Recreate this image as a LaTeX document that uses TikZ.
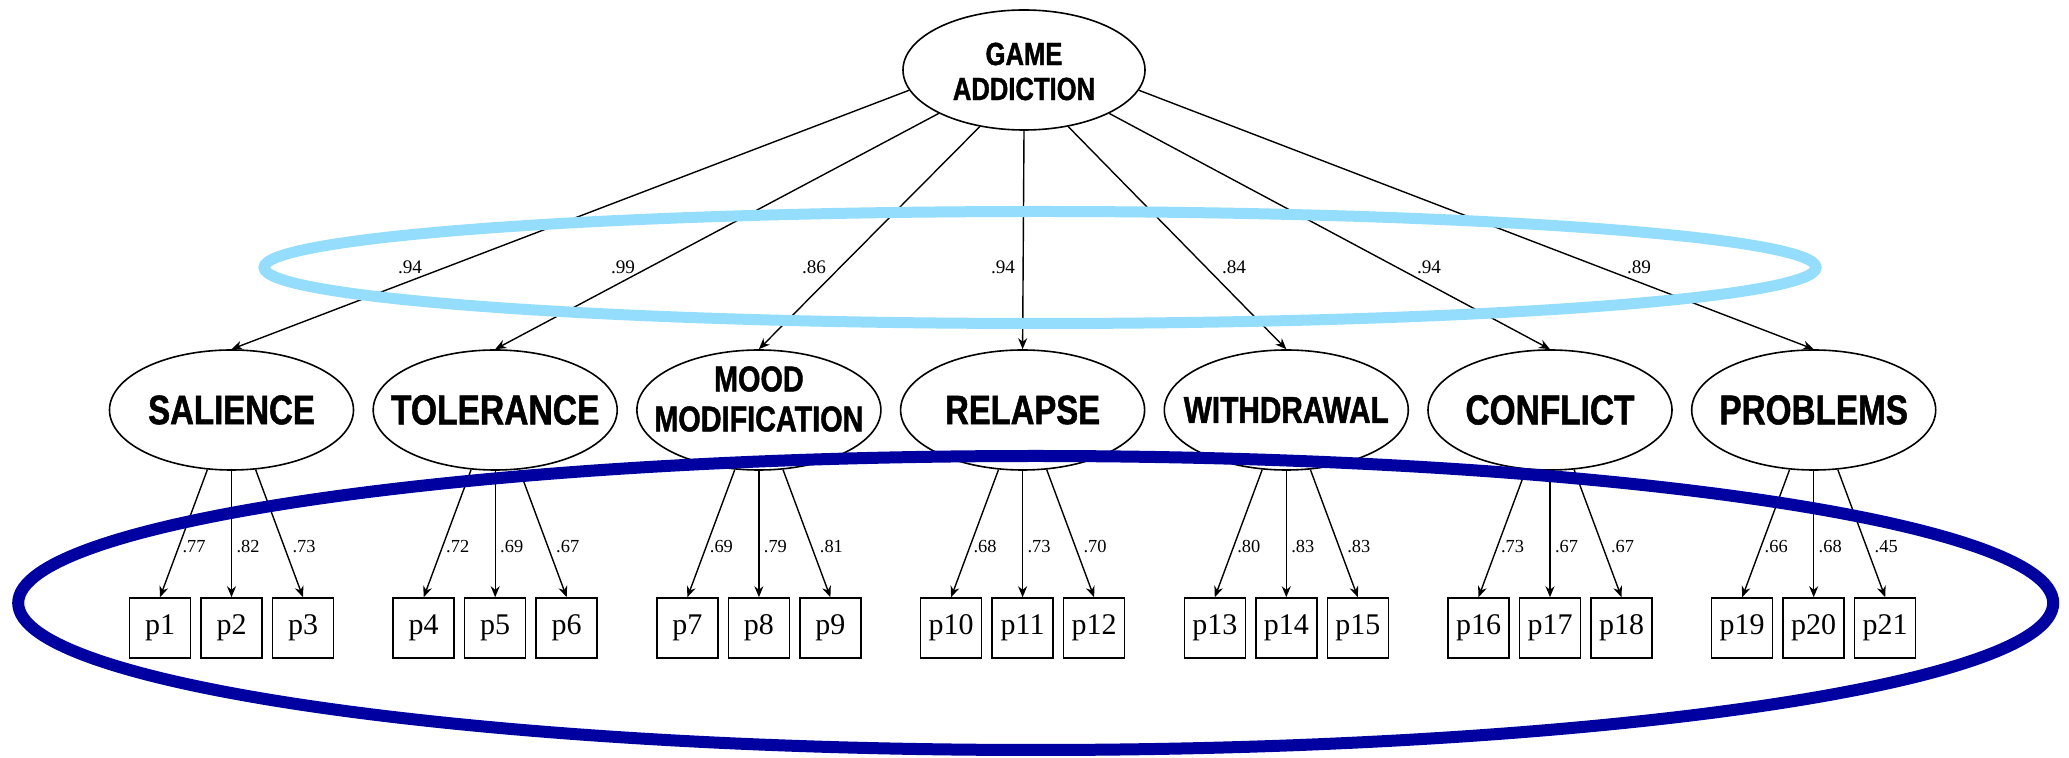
\documentclass[tikz,border=0pt]{standalone}
\usepackage{fontspec}
\setmainfont{Liberation Serif}
\newfontfamily\capsfont{Liberation Sans}[FakeStretch=0.8, BoldFeatures={FakeBold=1.2}]
\usetikzlibrary{shapes.geometric,arrows.meta}

\definecolor{ringlight}{RGB}{148,221,252}
\definecolor{ringdark}{RGB}{0,0,160}

\tikzset{
  latent/.style={ellipse, draw, line width=0.8pt, minimum width=122pt,
    minimum height=60pt, inner sep=0pt},
  lv/.style={font=\capsfont\bfseries\fontsize{#1}{#1}\selectfont},
  obs/.style={rectangle, draw, line width=0.75pt, minimum width=30.5pt,
    minimum height=30pt, inner sep=0pt, font=\fontsize{15}{18}\selectfont},
  load/.style={line width=0.7pt, -{Stealth[length=5.5pt,width=4.5pt]}},
  coeftop/.style={font=\fontsize{9.6}{11}\selectfont, inner sep=0pt},
  coefitem/.style={font=\fontsize{9.2}{11}\selectfont, inner sep=0pt},
}

\begin{document}
\begin{tikzpicture}[x=0.5pt,y=-0.5pt]
\useasboundingbox (0,0) rectangle (2069,758);

% second-order factor
\node[latent, minimum width=121pt] (top) at (1024,70) {};
\node[font=\capsfont\bfseries\fontsize{16}{17.5}\selectfont, align=center]
  (toptxt) at (1024,71.5) {GAME\\ADDICTION};

% first-order factors
\node[latent, label={[lv=20.6]center:SALIENCE}]   (f1) at (231.5,410) {};
\node[latent, label={[lv=21]center:TOLERANCE}]    (f2) at (495.2,410) {};
\node[latent, label={[font=\capsfont\bfseries\fontsize{18}{20}\selectfont,
  align=center, yshift=5.5pt]center:MOOD\\MODIFICATION}] (f3) at (758.9,410) {};
\node[latent, label={[lv=20.5]center:RELAPSE}]    (f4) at (1022.6,410) {};
\node[latent, label={[lv=18.6]center:WITHDRAWAL}] (f5) at (1286.3,410) {};
\node[latent, label={[lv=20.9]center:CONFLICT}]   (f6) at (1550.0,410) {};
\node[latent, label={[lv=20.8]center:PROBLEMS}]   (f7) at (1813.7,410) {};

% paths from the second-order factor
\foreach \k/\ang in {1/190,2/207,3/232,4/270,5/308,6/333,7/350}
  \draw[load] (top.\ang) -- (f\k.north);

\node[coeftop] (g1) at (410,267)  {.94};
\node[coeftop] (g2) at (623,267)  {.99};
\node[coeftop] (g3) at (814,267)  {.86};
\node[coeftop] (g4) at (1003,267) {.94};
\node[coeftop] (g5) at (1234,267) {.84};
\node[coeftop] (g6) at (1429,267) {.94};
\node[coeftop] (g7) at (1639,267) {.89};

% indicators, loadings and their coefficients
\foreach \k/\c/\u/\v/\w in {1/231.5/.77/.82/.73, 2/495.2/.72/.69/.67,
    3/758.9/.69/.79/.81, 4/1022.6/.68/.73/.70, 5/1286.3/.80/.83/.83,
    6/1550.0/.73/.67/.67, 7/1813.7/.66/.68/.45} {
  \pgfmathtruncatemacro\a{3*\k-2}
  \pgfmathtruncatemacro\b{3*\k-1}
  \pgfmathtruncatemacro\d{3*\k}
  \node[obs] (p\a) at (\c-71.5,628) {p\a};
  \node[obs] (p\b) at (\c,628)      {p\b};
  \node[obs] (p\d) at (\c+71.5,628) {p\d};
  \draw[load] (f\k.248) -- (p\a.north);
  \draw[load] (f\k.south) -- (p\b.north);
  \draw[load] (f\k.292) -- (p\d.north);
  \node[coefitem] (c\a) at (\c-37.5,547) {\u};
  \node[coefitem] (c\b) at (\c+16.5,547) {\v};
  \node[coefitem] (c\d) at (\c+72.5,547) {\w};
}

% highlighting rings
\draw[ringlight, line width=5.5pt] (1040,267.5) ellipse [x radius=388pt, y radius=28pt];
\draw[ringdark, line width=6pt] (1035.7,603) ellipse [x radius=508.75pt, y radius=73.5pt];
\end{tikzpicture}
\end{document}
